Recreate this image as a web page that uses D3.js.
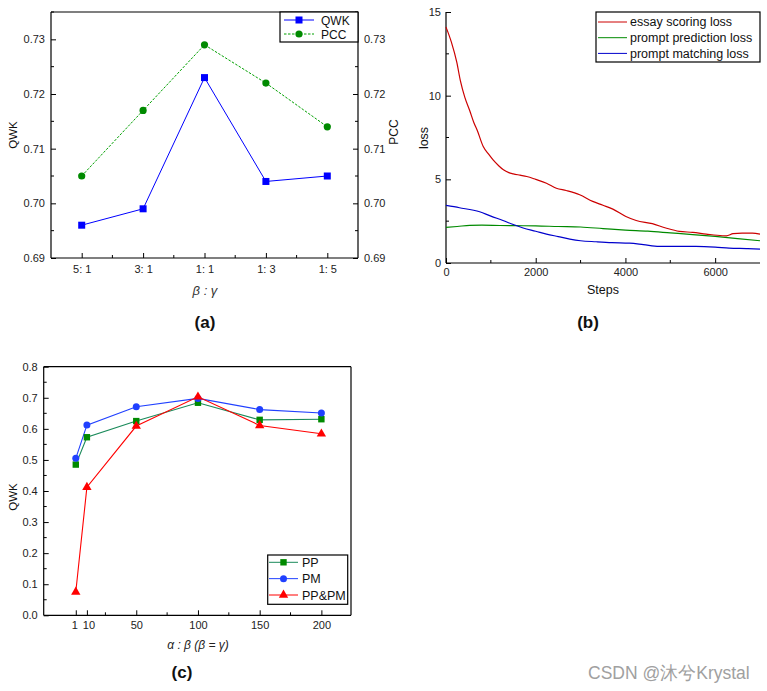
<!DOCTYPE html>
<html><head><meta charset="utf-8">
<script src="https://cdn.jsdelivr.net/npm/d3@7"></script>
<style>
body{margin:0;background:#fff;}
svg{display:block;}
text{font-family:"Liberation Sans",Arial,sans-serif;}
</style></head>
<body>
<svg id="c" width="767" height="691"></svg>
<script>
// ---------- Data ----------
// (a)
const aCats = ["5: 1","3: 1","1: 1","1: 3","1: 5"];
const aQWK = [0.696,0.699,0.723,0.704,0.705];
const aPCC = [0.705,0.717,0.729,0.722,0.714];
const aTicks = [0.69,0.70,0.71,0.72,0.73];
// (b)
const bSteps = [0,120,240,320,420,530,620,700,830,950,1050,1180,1280,1400,1500,1650,1800,2000,2240,2460,2680,2980,3270,3500,3720,4010,4240,4600,4900,5200,5500,5800,6160,6250,6400,6600,6830,7000];
const bEssay = [14.1,13.2,12.0,10.9,9.9,9.1,8.4,7.9,6.96,6.5,6.16,5.8,5.57,5.4,5.33,5.25,5.17,5.0,4.77,4.47,4.33,4.08,3.68,3.45,3.22,2.78,2.54,2.35,2.09,1.89,1.83,1.73,1.63,1.62,1.75,1.79,1.79,1.73];
const bPredSteps = [0,250,530,800,1200,1500,2000,2500,3000,3500,4000,4500,5000,5500,6000,6500,7000];
const bPred = [2.13,2.18,2.25,2.26,2.24,2.23,2.22,2.18,2.15,2.06,1.97,1.9,1.8,1.7,1.59,1.46,1.33];
const bMatchSteps = [0,300,750,1000,1270,1500,1720,2000,2240,2500,2760,3000,3350,3700,4090,4400,4750,5200,5570,6000,6310,6700,7000];
const bMatch = [3.44,3.3,3.06,2.8,2.54,2.3,2.09,1.9,1.73,1.58,1.43,1.33,1.27,1.22,1.19,1.1,0.99,0.99,0.99,0.95,0.89,0.86,0.83];
const bYTicks = [0,5,10,15];
const bXTicks = [0,2000,4000,6000];
// (c)
const cX = [1,10,50,100,150,200];
const cPP = [0.485,0.573,0.625,0.684,0.629,0.631];
const cPM = [0.505,0.612,0.671,0.698,0.662,0.651];
const cPPPM = [0.075,0.412,0.609,0.703,0.611,0.584];
const cXTicks = [1,10,50,100,150,200];
const cYTicks = [0,0.1,0.2,0.3,0.4,0.5,0.6,0.7,0.8];

const svg = d3.select("#c");
const TICK = 5, MINOR = 3;

function styleAxis(g, fs){
  g.selectAll(".domain").remove();
  g.selectAll("line").attr("stroke","#000").attr("stroke-width",1);
  g.selectAll("text").attr("font-size",fs).attr("fill","#222").attr("font-family","'Liberation Sans',Arial,sans-serif");
}
function frame(x0,x1,y0,y1,sides){
  const p = svg.append("g").attr("stroke","#000").attr("stroke-width",1.2).attr("fill","none");
  if(sides.includes("l")) p.append("line").attr("x1",x0).attr("x2",x0).attr("y1",y0).attr("y2",y1);
  if(sides.includes("r")) p.append("line").attr("x1",x1).attr("x2",x1).attr("y1",y0).attr("y2",y1);
  if(sides.includes("t")) p.append("line").attr("x1",x0).attr("x2",x1).attr("y1",y0).attr("y2",y0);
  if(sides.includes("b")) p.append("line").attr("x1",x0).attr("x2",x1).attr("y1",y1).attr("y2",y1);
}
function minorY(x, ys, scale, dir){
  svg.append("g").selectAll("line").data(ys).join("line")
    .attr("x1",x).attr("x2",x+dir*MINOR).attr("y1",d=>scale(d)).attr("y2",d=>scale(d)).attr("stroke","#000");
}
function minorX(y, xs, scale){
  svg.append("g").selectAll("line").data(xs).join("line")
    .attr("y1",y).attr("y2",y-MINOR).attr("x1",d=>scale(d)).attr("x2",d=>scale(d)).attr("stroke","#000");
}

// ================= Panel (a) =================
{
  const L=51,R=358,T=12,B=258;
  const x = d3.scalePoint().domain(aCats).range([L,R]).padding(0.5);
  const y = d3.scaleLinear().domain([0.69,0.735]).range([B,T]);
  const gx = svg.append("g").attr("transform",`translate(0,${B})`)
    .call(d3.axisBottom(x).tickSize(-TICK).tickPadding(7));
  styleAxis(gx,11);
  const gy = svg.append("g").attr("transform",`translate(${L},0)`)
    .call(d3.axisLeft(y).tickValues(aTicks).tickFormat(d3.format(".2f")).tickSize(-TICK).tickPadding(6));
  styleAxis(gy,11);
  const gy2 = svg.append("g").attr("transform",`translate(${R},0)`)
    .call(d3.axisRight(y).tickValues(aTicks).tickFormat(d3.format(".2f")).tickSize(-TICK).tickPadding(6));
  styleAxis(gy2,11);
  minorY(L, aTicks.map(d=>d+0.005), y, 1);
  minorY(R, aTicks.map(d=>d+0.005), y, -1);
  const mids = aCats.slice(0,-1).map((c,i)=>(x(c)+x(aCats[i+1]))/2);
  svg.append("g").selectAll("line").data(mids).join("line")
    .attr("x1",d=>d).attr("x2",d=>d).attr("y1",B).attr("y2",B-MINOR).attr("stroke","#000");
  frame(L,R,T,B,"lrbt");

  const line = d3.line().x((d,i)=>x(aCats[i])).y(d=>y(d));
  svg.append("path").datum(aPCC).attr("d",line).attr("fill","none").attr("stroke","#00a000").attr("stroke-width",1).attr("stroke-dasharray","2.5,1.5");
  svg.append("path").datum(aQWK).attr("d",line).attr("fill","none").attr("stroke","#0000ff").attr("stroke-width",1);
  svg.append("g").selectAll("circle").data(aPCC).join("circle")
    .attr("cx",(d,i)=>x(aCats[i])).attr("cy",d=>y(d)).attr("r",3.6).attr("fill","#008a00");
  svg.append("g").selectAll("rect").data(aQWK).join("rect")
    .attr("x",(d,i)=>x(aCats[i])-3.5).attr("y",d=>y(d)-3.5).attr("width",7).attr("height",7).attr("fill","#0000ff");

  // legend
  svg.append("rect").attr("x",280).attr("y",12).attr("width",78).attr("height",30).attr("fill","#fff").attr("stroke","#000").attr("stroke-width",1.2);
  svg.append("line").attr("x1",284).attr("x2",314).attr("y1",20).attr("y2",20).attr("stroke","#0000ff");
  svg.append("rect").attr("x",295.5).attr("y",16.5).attr("width",7).attr("height",7).attr("fill","#0000ff");
  svg.append("line").attr("x1",284).attr("x2",314).attr("y1",34).attr("y2",34).attr("stroke","#00a000").attr("stroke-dasharray","2.5,1.5");
  svg.append("circle").attr("cx",299).attr("cy",34).attr("r",3.6).attr("fill","#008a00");
  svg.append("text").attr("x",321).attr("y",24.5).attr("font-size",12).attr("fill","#111").text("QWK");
  svg.append("text").attr("x",321).attr("y",38.5).attr("font-size",12).attr("fill","#111").text("PCC");

  svg.append("text").attr("transform","translate(17,135) rotate(-90)").attr("text-anchor","middle").attr("font-size",11.5).attr("fill","#111").text("QWK");
  svg.append("text").attr("transform","translate(398,132) rotate(-90)").attr("text-anchor","middle").attr("font-size",12).attr("fill","#111").text("PCC");
  svg.append("text").attr("x",205).attr("y",295).attr("text-anchor","middle").attr("font-size",13).attr("font-style","italic").attr("font-family","'Liberation Serif','Times New Roman',serif").attr("fill","#333").text("β : γ");
  svg.append("text").attr("x",205).attr("y",328).attr("text-anchor","middle").attr("font-size",17).attr("font-weight","bold").attr("font-family","'Liberation Serif','Times New Roman',serif").attr("fill","#111").text("(a)");
}

// ================= Panel (b) =================
{
  const L=446,R=760,T=12,B=263;
  const x = d3.scaleLinear().domain([0,7000]).range([L,R]);
  const y = d3.scaleLinear().domain([0,15]).range([B,T]);
  const gx = svg.append("g").attr("transform",`translate(0,${B})`)
    .call(d3.axisBottom(x).tickValues(bXTicks).tickFormat(d3.format("d")).tickSize(-TICK).tickPadding(5));
  styleAxis(gx,11);
  const gy = svg.append("g").attr("transform",`translate(${L},0)`)
    .call(d3.axisLeft(y).tickValues(bYTicks).tickSize(-TICK).tickPadding(5));
  styleAxis(gy,11);
  minorY(L,[2.5,7.5,12.5],y,1);
  minorX(B,[1000,3000,5000],x);
  frame(L,R,T,B,"lb");

  const mk = (xs)=>d3.line().x((d,i)=>x(xs[i])).y(d=>y(d)).curve(d3.curveMonotoneX);
  svg.append("path").datum(bPred).attr("d",mk(bPredSteps)).attr("fill","none").attr("stroke","#008a00").attr("stroke-width",1.2);
  svg.append("path").datum(bMatch).attr("d",mk(bMatchSteps)).attr("fill","none").attr("stroke","#0000cc").attr("stroke-width",1.2);
  svg.append("path").datum(bEssay).attr("d",mk(bSteps)).attr("fill","none").attr("stroke","#cc0000").attr("stroke-width",1.2);

  svg.append("rect").attr("x",596).attr("y",12).attr("width",164).attr("height",50).attr("fill","#fff").attr("stroke","#000").attr("stroke-width",1.2);
  const items=[["essay scoring loss","#cc0000"],["prompt prediction loss","#008a00"],["prompt matching loss","#0000cc"]];
  items.forEach((it,i)=>{
    const yy = 22+i*15.7;
    svg.append("line").attr("x1",598).attr("x2",627).attr("y1",yy).attr("y2",yy).attr("stroke",it[1]);
    svg.append("text").attr("x",630).attr("y",yy+4.3).attr("font-size",12.5).attr("fill","#111").text(it[0]);
  });
  svg.append("text").attr("transform","translate(428,138) rotate(-90)").attr("text-anchor","middle").attr("font-size",12.5).attr("fill","#111").text("loss");
  svg.append("text").attr("x",603).attr("y",294).attr("text-anchor","middle").attr("font-size",12.5).attr("fill","#111").text("Steps");
  svg.append("text").attr("x",588).attr("y",328).attr("text-anchor","middle").attr("font-size",17).attr("font-weight","bold").attr("font-family","'Liberation Serif','Times New Roman',serif").attr("fill","#111").text("(b)");
}

// ================= Panel (c) =================
{
  const L=43.7,R=351,T=366.7,B=615.3;
  const x = d3.scaleLinear().domain([-25,224]).range([L,R]);
  const y = d3.scaleLinear().domain([0,0.8]).range([B,T]);
  const gx = svg.append("g").attr("transform",`translate(0,${B})`)
    .call(d3.axisBottom(x).tickValues(cXTicks).tickSize(-TICK).tickPadding(6));
  styleAxis(gx,11);
  gx.selectAll(".tick").filter(d=>d===1).select("text").attr("dx",-1.5);
  gx.selectAll(".tick").filter(d=>d===10).select("text").attr("dx",1.5);
  const gy = svg.append("g").attr("transform",`translate(${L},0)`)
    .call(d3.axisLeft(y).tickValues(cYTicks).tickFormat(d3.format(".1f")).tickSize(-TICK).tickPadding(6));
  styleAxis(gy,11);
  minorY(L,[0.05,0.15,0.25,0.35,0.45,0.55,0.65,0.75],y,1);
  minorX(B,[25,75,125,175],x);
  frame(L,R,T,B,"lrbt");

  const line = d3.line().x((d,i)=>x(cX[i])).y(d=>y(d));
  svg.append("path").datum(cPP).attr("d",line).attr("fill","none").attr("stroke","#1a8a5a").attr("stroke-width",1.1);
  svg.append("path").datum(cPM).attr("d",line).attr("fill","none").attr("stroke","#2040ff").attr("stroke-width",1.1);
  svg.append("path").datum(cPPPM).attr("d",line).attr("fill","none").attr("stroke","#ff0000").attr("stroke-width",1.1);
  svg.append("g").selectAll("rect").data(cPP).join("rect")
    .attr("x",(d,i)=>x(cX[i])-3.2).attr("y",d=>y(d)-3.2).attr("width",6.4).attr("height",6.4).attr("fill","#008a00");
  svg.append("g").selectAll("circle").data(cPM).join("circle")
    .attr("cx",(d,i)=>x(cX[i])).attr("cy",d=>y(d)).attr("r",3.5).attr("fill","#2040ff");
  const tri = d3.symbol().type(d3.symbolTriangle).size(38);
  svg.append("g").selectAll("path").data(cPPPM).join("path")
    .attr("d",tri).attr("transform",(d,i)=>`translate(${x(cX[i])},${y(d)})`).attr("fill","#ff0000");

  // legend
  svg.append("rect").attr("x",267.7).attr("y",555).attr("width",80).attr("height",49.3).attr("fill","#fff").attr("stroke","#000").attr("stroke-width",1.2);
  const lg=[["PP","#1a8a5a","#008a00","s"],["PM","#2040ff","#2040ff","c"],["PP&PM","#ff0000","#ff0000","t"]];
  lg.forEach((it,i)=>{
    const yy = 562.3+i*16.35;
    svg.append("line").attr("x1",269).attr("x2",298).attr("y1",yy).attr("y2",yy).attr("stroke",it[1]);
    if(it[3]==="s") svg.append("rect").attr("x",280.3).attr("y",yy-3.2).attr("width",6.4).attr("height",6.4).attr("fill",it[2]);
    if(it[3]==="c") svg.append("circle").attr("cx",283.5).attr("cy",yy).attr("r",3.5).attr("fill",it[2]);
    if(it[3]==="t") svg.append("path").attr("d",tri).attr("transform",`translate(283.5,${yy})`).attr("fill",it[2]);
    svg.append("text").attr("x",302).attr("y",yy+4.5).attr("font-size",12.5).attr("fill","#111").text(it[0]);
  });

  svg.append("text").attr("transform","translate(17,497) rotate(-90)").attr("text-anchor","middle").attr("font-size",11.5).attr("fill","#111").text("QWK");
  svg.append("text").attr("x",198).attr("y",649).attr("text-anchor","middle").attr("font-size",12).attr("font-style","italic").attr("fill","#222").text("α : β (β = γ)");
  svg.append("text").attr("x",182).attr("y",678).attr("text-anchor","middle").attr("font-size",17).attr("font-weight","bold").attr("font-family","'Liberation Serif','Times New Roman',serif").attr("fill","#111").text("(c)");
}

// watermark
svg.append("text").attr("x",588).attr("y",679).attr("font-size",17.5).attr("fill","#a0a0a0")
  .attr("font-family","'DejaVu Sans','Noto Sans CJK SC',sans-serif").text("CSDN @沐兮Krystal");
</script>
</body></html>
